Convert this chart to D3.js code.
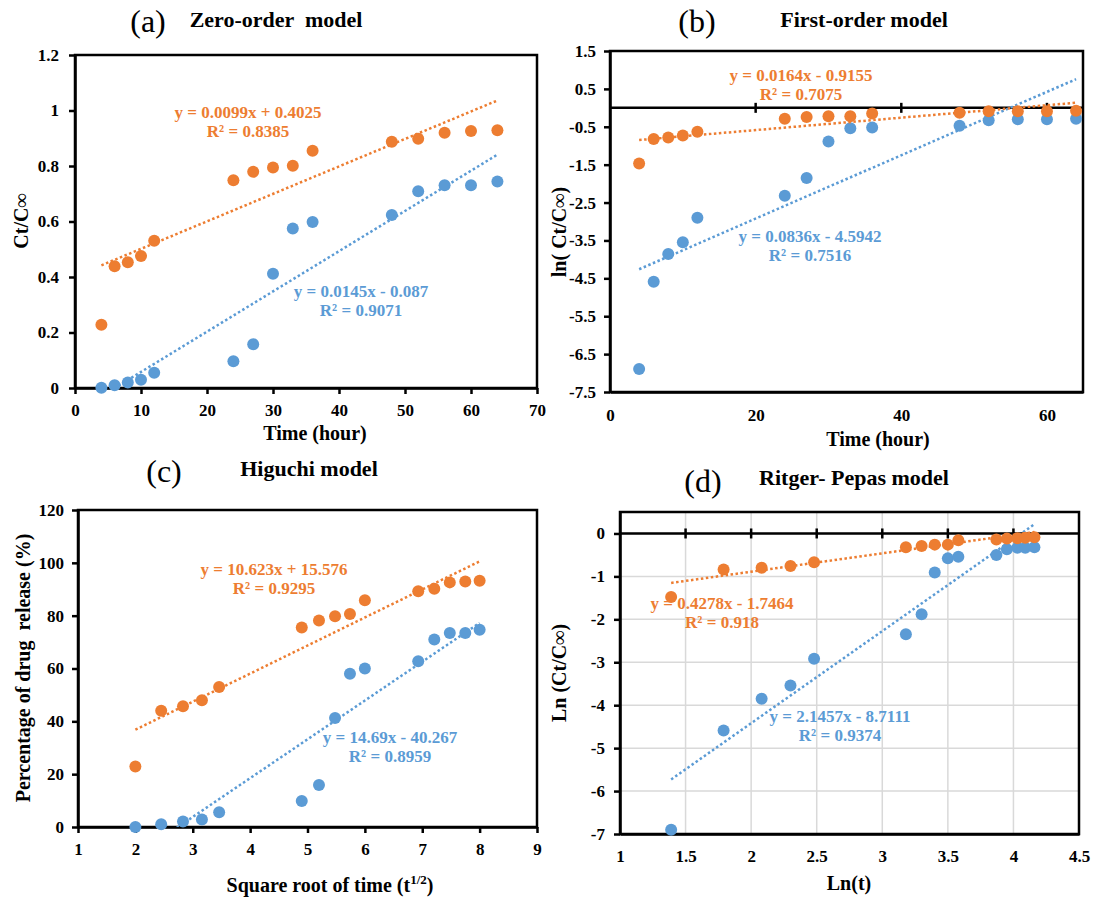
<!DOCTYPE html>
<html>
<head>
<meta charset="utf-8">
<title>Drug release kinetic models</title>
<style>
  body { margin: 0; background: #fff; }
  svg text { font-family: "Liberation Serif", "Times New Roman", serif; font-weight: bold; fill: #000; white-space: pre; }
  .tick-label { font-size: 17px; }
  .axis-title { font-size: 20px; }
  .eq { font-size: 17px; }
  .panel-letter { font-size: 32px; font-weight: normal; }
  .panel-title { font-size: 22px; }
  .frame { fill: none; stroke: #000; stroke-width: 2.5; }
  .grid line { stroke: #d9d9d9; stroke-width: 1.5; }
  .trend { fill: none; stroke-width: 2.5; stroke-dasharray: 2.5,2.5; }
</style>
</head>
<body>
<svg width="1093" height="898"></svg>
<script src="https://d3js.org/d3.v7.min.js"></script>
<script>
// x values
var timeHours = [4, 6, 8, 10, 12, 24, 27, 30, 33, 36, 48, 52, 56, 60, 64];
var sqrtTime  = [2, 2.45, 2.83, 3.16, 3.46, 4.9, 5.2, 5.48, 5.74, 6, 6.93, 7.21, 7.48, 7.75, 8];
var lnTime    = [1.39, 1.79, 2.08, 2.30, 2.48, 3.18, 3.30, 3.40, 3.50, 3.58, 3.87, 3.95, 4.03, 4.09, 4.16];

// (a) zero-order
var zeroOrange = [0.228, 0.439, 0.453, 0.476, 0.531, 0.749, 0.779, 0.795, 0.801, 0.855, 0.887, 0.898, 0.920, 0.926, 0.929];
var zeroBlue   = [0.001, 0.010, 0.020, 0.030, 0.055, 0.096, 0.158, 0.412, 0.575, 0.598, 0.623, 0.709, 0.731, 0.731, 0.744];
// (b) first-order
var firstOrange = [-1.47, -0.82, -0.78, -0.73, -0.63, -0.29, -0.24, -0.22, -0.22, -0.15, -0.13, -0.09, -0.09, -0.09, -0.08];
var firstBlue   = [-6.89, -4.59, -3.86, -3.55, -2.90, -2.32, -1.85, -0.89, -0.54, -0.52, -0.47, -0.33, -0.30, -0.30, -0.29];
// (c) Higuchi
var higuchiOrange = [22.9, 44.0, 45.7, 48.0, 53.0, 75.5, 78.2, 79.8, 80.6, 85.8, 89.2, 90.2, 92.6, 92.9, 93.2];
var higuchiBlue   = [0, 1.0, 2.1, 2.8, 5.6, 9.8, 15.9, 41.3, 58.0, 60.0, 62.7, 71.0, 73.4, 73.4, 74.7];
// (d) Ritger-Peppas
var peppasOrange = [-1.48, -0.84, -0.80, -0.76, -0.67, -0.32, -0.29, -0.26, -0.26, -0.16, -0.14, -0.12, -0.11, -0.10, -0.09];
var peppasBlue   = [-6.90, -4.59, -3.85, -3.54, -2.92, -2.35, -1.88, -0.91, -0.58, -0.54, -0.50, -0.37, -0.33, -0.33, -0.32];

// linear trendlines [slope, intercept] and their labels
var zeroOrangeFit = [0.0099, 0.4025],   zeroBlueFit = [0.0145, -0.087];
var firstOrangeFit = [0.0164, -0.9155], firstBlueFit = [0.0836, -4.5942];
var higuchiOrangeFit = [10.623, 15.576], higuchiBlueFit = [14.69, -40.267];
var peppasOrangeFit = [0.4278, -1.7464], peppasBlueFit = [2.1457, -8.7111];
var zeroLabels    = ["y = 0.0099x + 0.4025", "R² = 0.8385", "y = 0.0145x - 0.087", "R² = 0.9071"];
var firstLabels   = ["y = 0.0164x - 0.9155", "R² = 0.7075", "y = 0.0836x - 4.5942", "R² = 0.7516"];
var higuchiLabels = ["y = 10.623x + 15.576", "R² = 0.9295", "y = 14.69x - 40.267", "R² = 0.8959"];
var peppasLabels  = ["y = 0.4278x - 1.7464", "R² = 0.918", "y = 2.1457x - 8.7111", "R² = 0.9374"];

// tick labels
var zeroXTicks = [0, 10, 20, 30, 40, 50, 60, 70];
var zeroYTicks = [0, 0.2, 0.4, 0.6, 0.8, 1, 1.2];
var firstXTicks = [0, 20, 40, 60];
var firstYTicks = [1.5, 0.5, -0.5, -1.5, -2.5, -3.5, -4.5, -5.5, -6.5, -7.5];
var higuchiXTicks = [1, 2, 3, 4, 5, 6, 7, 8, 9];
var higuchiYTicks = [0, 20, 40, 60, 80, 100, 120];
var peppasXTicks = [1, 1.5, 2, 2.5, 3, 3.5, 4, 4.5];
var peppasYTicks = [0, -1, -2, -3, -4, -5, -6, -7];

var ORANGE = "#ed7d31", BLUE = "#5b9bd5";
var svg = d3.select("svg");

function drawPanel(p) {
    var x = d3.scaleLinear().domain(p.xDomain).range([p.left, p.right]);
    var y = d3.scaleLinear().domain(p.yDomain).range([p.bottom, p.top]);
    var g = svg.append("g");
    var clipId = "clip-" + p.id;

    g.append("clipPath").attr("id", clipId)
        .append("rect")
        .attr("x", p.left).attr("y", p.top)
        .attr("width", p.right - p.left).attr("height", p.bottom - p.top);

    if (p.grid) {
        var grid = g.append("g").attr("class", "grid");
        grid.selectAll("line.h").data(p.yTicks).enter().append("line")
            .attr("x1", p.left).attr("x2", p.right)
            .attr("y1", function(d) { return y(d); }).attr("y2", function(d) { return y(d); });
        grid.selectAll("line.v").data(p.xTicks).enter().append("line")
            .attr("y1", p.top).attr("y2", p.bottom)
            .attr("x1", function(d) { return x(d); }).attr("x2", function(d) { return x(d); });
    }

    var yAxis = g.append("g")
        .attr("transform", "translate(" + p.left + ",0)")
        .call(d3.axisLeft(y).tickValues(p.yTicks).tickFormat(String)
            .tickSize(6).tickSizeOuter(0).tickPadding(p.yPad));
    var xAxis = g.append("g")
        .attr("transform", "translate(0," + p.bottom + ")")
        .call(d3.axisBottom(x).tickValues(p.xTicks).tickFormat(String)
            .tickSize(p.zeroTicks ? 0 : 6).tickSizeOuter(0).tickPadding(p.xPad));
    [yAxis, xAxis].forEach(function(a) {
        a.attr("font-family", null).attr("font-size", null);
        a.selectAll("text").attr("class", "tick-label");
        a.selectAll("line, path").attr("stroke", "#000").attr("stroke-width", 2.5);
    });

    g.append("rect").attr("class", "frame")
        .attr("x", p.left).attr("y", p.top)
        .attr("width", p.right - p.left).attr("height", p.bottom - p.top);

    // horizontal axis crossing at y = 0
    if (p.zeroTicks) {
        g.append("line")
            .attr("x1", p.left).attr("x2", p.right)
            .attr("y1", y(0)).attr("y2", y(0))
            .attr("stroke", "#000").attr("stroke-width", 2.5);
        g.selectAll("line.zt").data(p.zeroTicks).enter().append("line")
            .attr("x1", function(d) { return x(d); }).attr("x2", function(d) { return x(d); })
            .attr("y1", y(0) - 5).attr("y2", y(0) + 5)
            .attr("stroke", "#000").attr("stroke-width", 2.5);
    }

    var ext = d3.extent(p.xValues);
    p.series.forEach(function(s) {
        var fit = function(v) { return s.fit[0] * v + s.fit[1]; };
        g.append("line").attr("class", "trend")
            .attr("clip-path", "url(#" + clipId + ")")
            .attr("x1", x(ext[0])).attr("y1", y(fit(ext[0])))
            .attr("x2", x(ext[1])).attr("y2", y(fit(ext[1])))
            .attr("stroke", s.color);
        g.append("g").selectAll("circle").data(s.values).enter().append("circle")
            .attr("cx", function(d, i) { return x(p.xValues[i]); })
            .attr("cy", function(d) { return y(d); })
            .attr("r", 6)
            .attr("fill", s.color);
        g.append("text").attr("class", "eq")
            .attr("x", s.labelPos[0]).attr("y", s.labelPos[1])
            .attr("text-anchor", "middle").style("fill", s.color)
            .text(s.labels[0]);
        g.append("text").attr("class", "eq")
            .attr("x", s.labelPos[0]).attr("y", s.labelPos[1] + 18.5)
            .attr("text-anchor", "middle").style("fill", s.color)
            .text(s.labels[1]);
    });

    g.append("text").attr("class", "panel-letter")
        .attr("x", p.letterPos[0]).attr("y", p.letterPos[1])
        .attr("text-anchor", "middle").text(p.letter);
    g.append("text").attr("class", "panel-title")
        .attr("x", p.titlePos[0]).attr("y", p.titlePos[1])
        .attr("text-anchor", "middle").text(p.title);

    var xt = g.append("text").attr("class", "axis-title")
        .attr("x", p.xTitlePos[0]).attr("y", p.xTitlePos[1])
        .attr("text-anchor", "middle");
    if (p.xTitleSup) {
        xt.append("tspan").text(p.xTitle);
        xt.append("tspan").attr("dy", -8).style("font-size", "13px").text(p.xTitleSup);
        xt.append("tspan").attr("dy", 8).text(")");
    } else {
        xt.text(p.xTitle);
    }
    g.append("text").attr("class", "axis-title")
        .attr("transform", "translate(" + p.yTitlePos[0] + "," + p.yTitlePos[1] + ") rotate(-90)")
        .attr("text-anchor", "middle").text(p.yTitle);
}

drawPanel({
    id: "a", left: 75, right: 537, top: 55, bottom: 388,
    xDomain: [0, 70], yDomain: [0, 1.2], xTicks: zeroXTicks, yTicks: zeroYTicks,
    xPad: 10, yPad: 10, xValues: timeHours,
    series: [
        { values: zeroBlue, fit: zeroBlueFit, color: BLUE, labels: zeroLabels.slice(2), labelPos: [361, 297] },
        { values: zeroOrange, fit: zeroOrangeFit, color: ORANGE, labels: zeroLabels.slice(0, 2), labelPos: [248, 118] }
    ],
    letter: "(a)", letterPos: [148, 32], title: "Zero-order  model", titlePos: [276, 27],
    xTitle: "Time (hour)", xTitlePos: [315, 440], yTitle: "Ct/C∞", yTitlePos: [28, 221]
});

drawPanel({
    id: "b", left: 610, right: 1083, top: 51, bottom: 392,
    xDomain: [0, 64.95], yDomain: [-7.5, 1.5], xTicks: firstXTicks, yTicks: firstYTicks,
    zeroTicks: [20, 40, 60], xPad: 17, yPad: 8, xValues: timeHours,
    series: [
        { values: firstBlue, fit: firstBlueFit, color: BLUE, labels: firstLabels.slice(2), labelPos: [810, 242] },
        { values: firstOrange, fit: firstOrangeFit, color: ORANGE, labels: firstLabels.slice(0, 2), labelPos: [801, 81] }
    ],
    letter: "(b)", letterPos: [697, 32], title: "First-order model", titlePos: [864, 27],
    xTitle: "Time (hour)", xTitlePos: [878, 446], yTitle: "ln( Ct/C∞)", yTitlePos: [566, 232]
});

drawPanel({
    id: "c", left: 78, right: 537, top: 510, bottom: 827,
    xDomain: [1, 9], yDomain: [0, 120], xTicks: higuchiXTicks, yTicks: higuchiYTicks,
    xPad: 10, yPad: 8, xValues: sqrtTime,
    series: [
        { values: higuchiBlue, fit: higuchiBlueFit, color: BLUE, labels: higuchiLabels.slice(2), labelPos: [390, 743] },
        { values: higuchiOrange, fit: higuchiOrangeFit, color: ORANGE, labels: higuchiLabels.slice(0, 2), labelPos: [274, 575] }
    ],
    letter: "(c)", letterPos: [164, 482], title: "Higuchi model", titlePos: [309, 476],
    xTitle: "Square root of time (t", xTitleSup: "1/2", xTitlePos: [330, 892],
    yTitle: "Percentage of drug  release (%)", yTitlePos: [30, 668]
});

drawPanel({
    id: "d", left: 620, right: 1079, top: 512, bottom: 834,
    xDomain: [1, 4.5], yDomain: [-7, 0.5], xTicks: peppasXTicks, yTicks: peppasYTicks,
    grid: true, zeroTicks: [1.5, 2, 2.5, 3, 3.5, 4], xPad: 16, yPad: 9, xValues: lnTime,
    series: [
        { values: peppasBlue, fit: peppasBlueFit, color: BLUE, labels: peppasLabels.slice(2), labelPos: [840, 722] },
        { values: peppasOrange, fit: peppasOrangeFit, color: ORANGE, labels: peppasLabels.slice(0, 2), labelPos: [722, 609] }
    ],
    letter: "(d)", letterPos: [703, 492], title: "Ritger- Pepas model", titlePos: [854, 485],
    xTitle: "Ln(t)", xTitlePos: [849, 890], yTitle: "Ln (Ct/C∞)", yTitlePos: [566, 673]
});
</script>
</body>
</html>
